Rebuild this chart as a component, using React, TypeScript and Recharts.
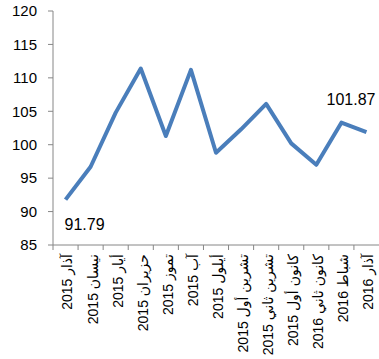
import { LineChart, Line, XAxis, YAxis, LabelList } from 'recharts';

const months = [
  'آذار 2015',
  'نيسان 2015',
  'أيار 2015',
  'حزيران 2015',
  'تموز 2015',
  'آب 2015',
  'أيلول 2015',
  'تشرين أول 2015',
  'تشرين ثاني 2015',
  'كانون أول 2015',
  'كانون ثاني 2016',
  'شباط 2016',
  'آذار 2016',
];

const index = [91.79, 96.7, 104.8, 111.4, 101.3, 111.2, 98.8, 102.3, 106.1, 100.2, 97.0, 103.3, 101.87];

const yTicks = [85, 90, 95, 100, 105, 110, 115, 120];

const data = months.map((month, i) => ({ month, value: index[i] }));

const AXIS = '#868686';
const FONT = '"Liberation Sans", Arial, "DejaVu Sans", sans-serif';

function MonthTick(props: any) {
  const { x, y, payload } = props;
  const half = payload.offset ?? 12.5;
  return (
    <g>
      <line x1={x - half} x2={x - half} y1={y - 8} y2={y - 3} stroke={AXIS} />
      <text
        x={x + 2}
        y={y + 1}
        dy="0.35em"
        textAnchor="end"
        fontSize={14}
        fill="#000"
        fontFamily={FONT}
        transform={`rotate(-90, ${x + 2}, ${y + 1})`}
      >
        {payload.value}
      </text>
    </g>
  );
}

function EndLabel(props: any) {
  const { x, y, value, index: i } = props;
  if (i === 0) {
    return (
      <text x={x - 1} y={y + 30} fontSize={16} fill="#000" fontFamily={FONT}>
        {value.toFixed(2)}
      </text>
    );
  }
  if (i === data.length - 1) {
    return (
      <text x={x + 9} y={y - 27} textAnchor="end" fontSize={16} fill="#000" fontFamily={FONT}>
        {value.toFixed(2)}
      </text>
    );
  }
  return null;
}

export default function App() {
  return (
    <div style={{ position: 'absolute', left: 0, top: 0, background: '#fff' }}>
      <LineChart
        width={379}
        height={359}
        data={data}
        margin={{ top: 11, right: 0, left: 0, bottom: 0 }}
      >
        <XAxis
          dataKey="month"
          scale="band"
          interval={0}
          height={114}
          axisLine={{ stroke: AXIS }}
          tickLine={false}
          tick={<MonthTick />}
        />
        <YAxis
          domain={[85, 120]}
          ticks={yTicks}
          width={53}
          tickSize={5}
          tickMargin={11}
          axisLine={{ stroke: AXIS }}
          tickLine={{ stroke: AXIS }}
          tick={{ fontSize: 15, fill: '#000', fontFamily: FONT }}
        />
        <Line
          type="linear"
          dataKey="value"
          stroke="#4a7ebb"
          strokeWidth={4}
          strokeLinejoin="round"
          dot={false}
          isAnimationActive={false}
        >
          <LabelList dataKey="value" content={<EndLabel />} />
        </Line>
      </LineChart>
    </div>
  );
}
